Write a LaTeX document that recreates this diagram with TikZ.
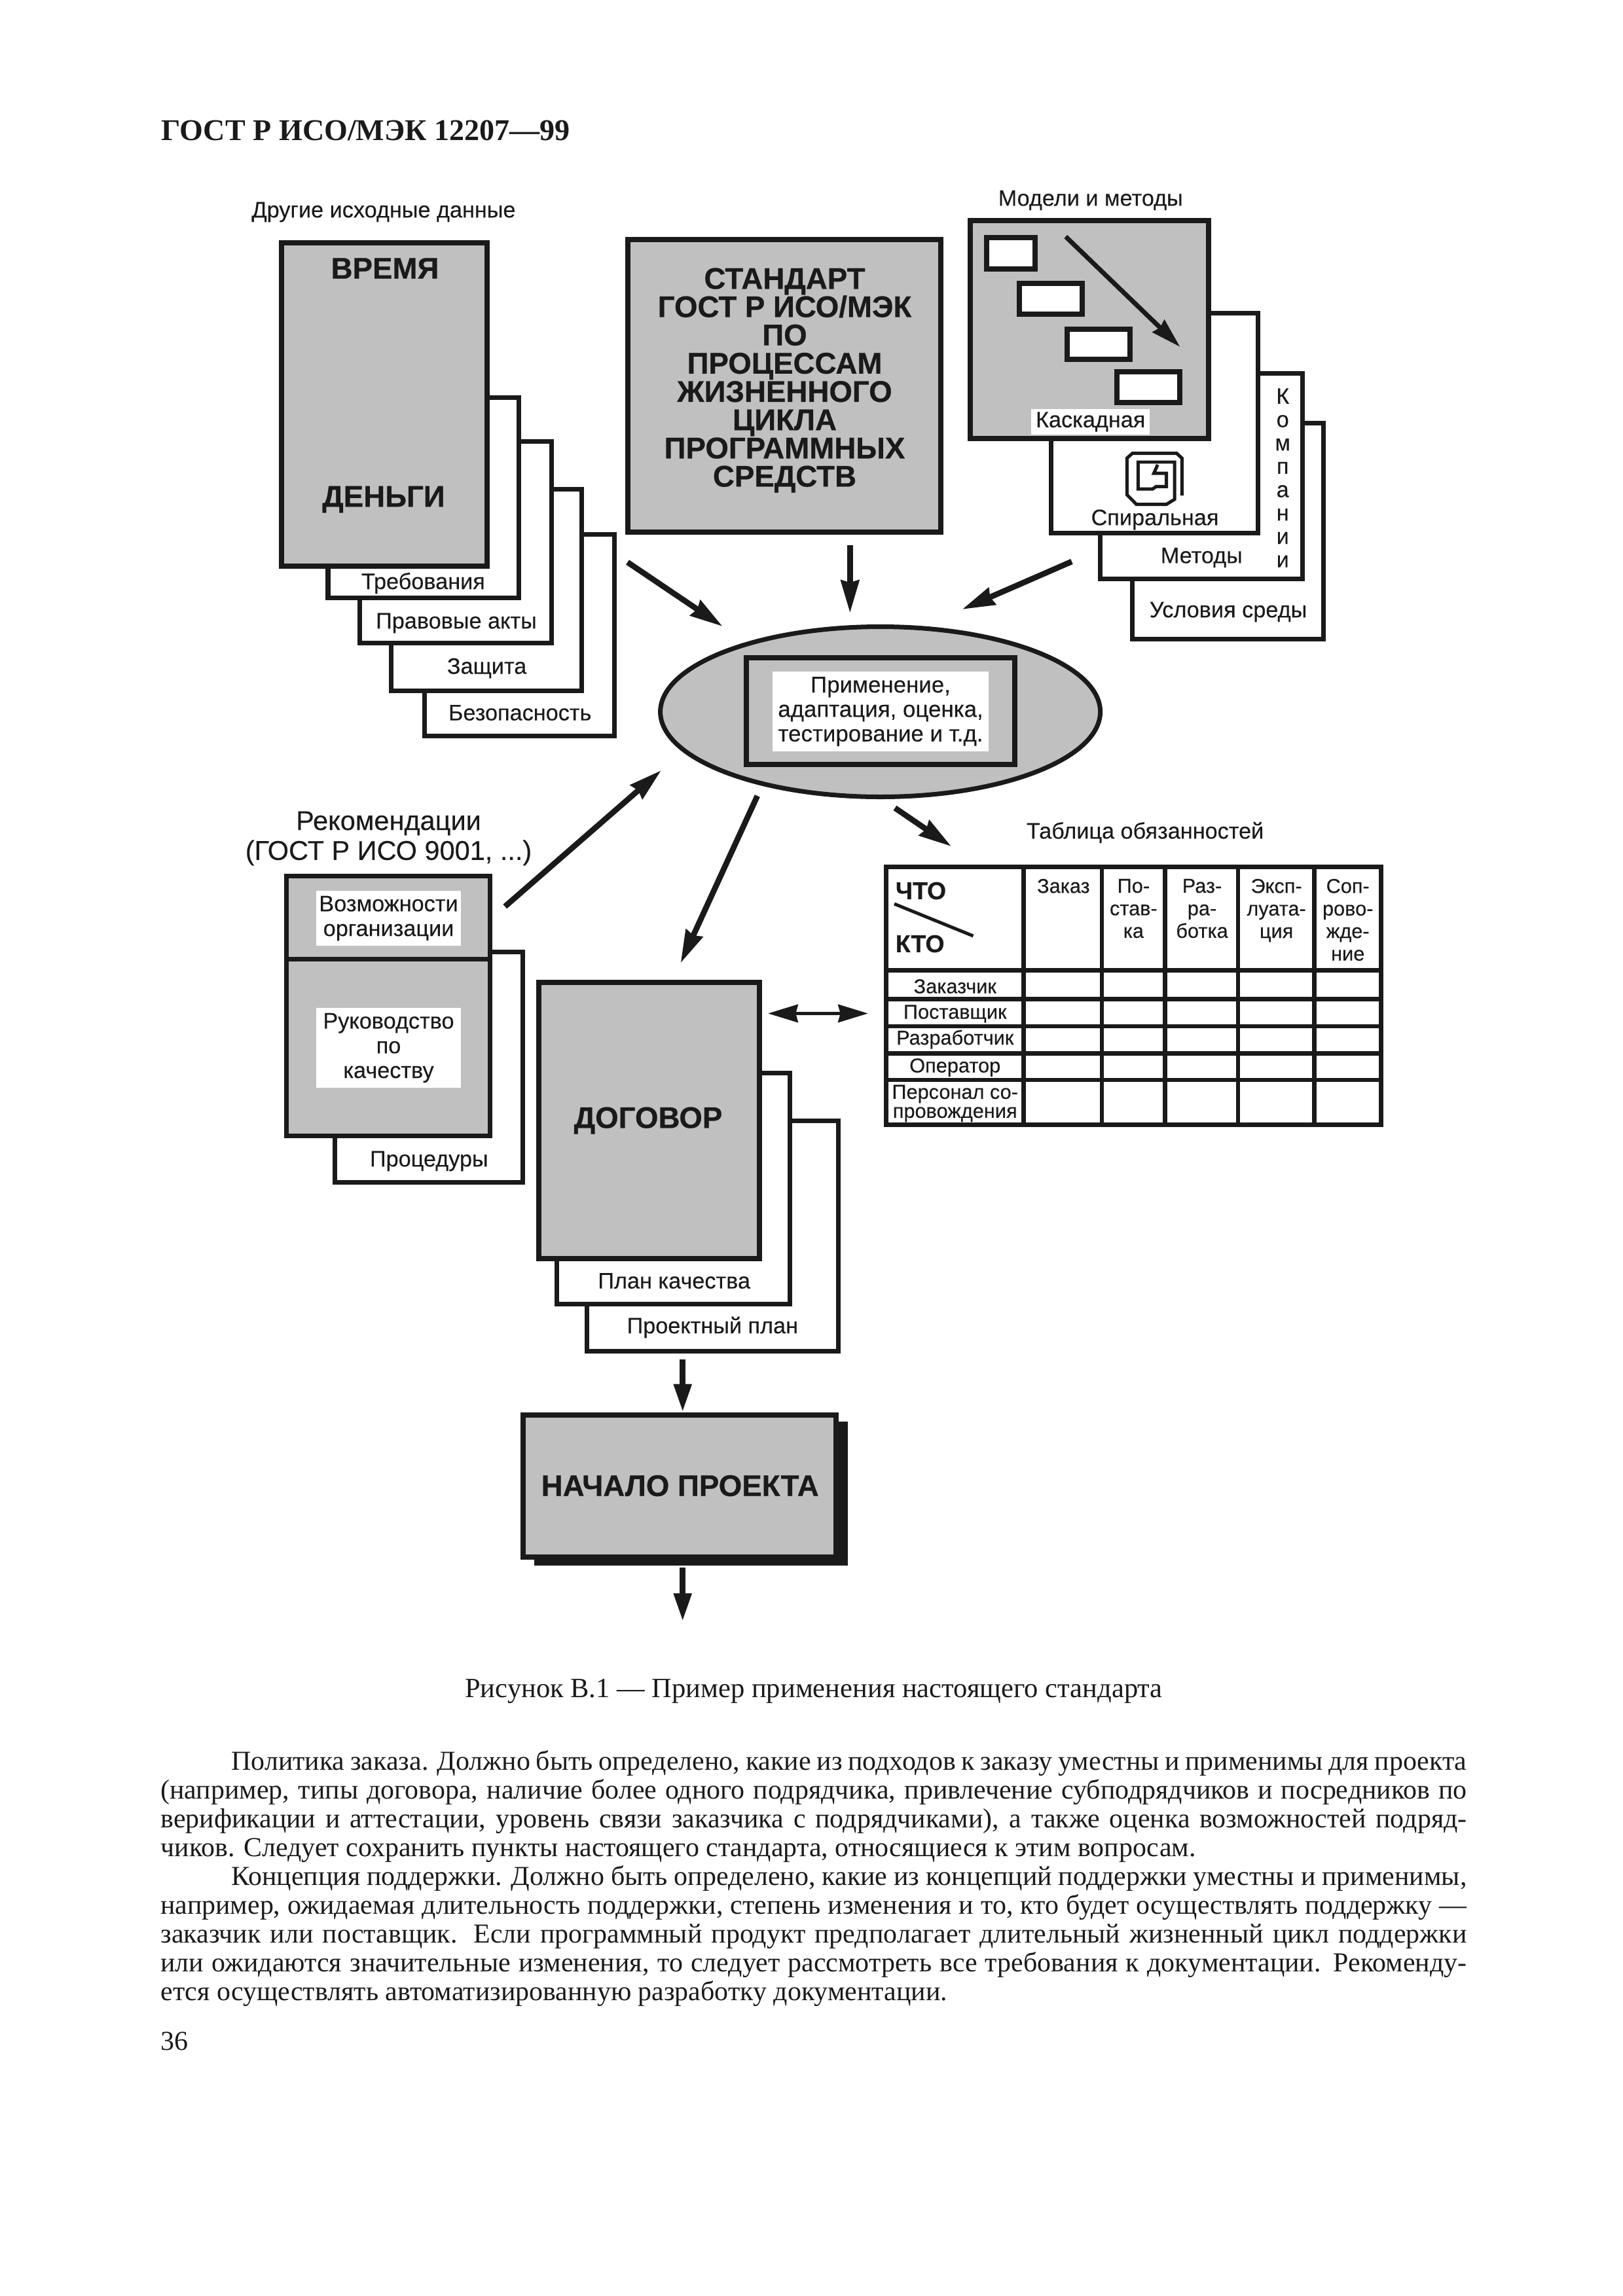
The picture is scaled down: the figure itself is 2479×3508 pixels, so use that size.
\documentclass[tikz,border=0pt]{standalone}
\usepackage{fontspec}
\setmainfont[FakeBold=0.15]{Liberation Sans}
\newfontfamily\bodyfont{Liberation Serif}
\newfontfamily\heavyfont[FakeBold=0.5]{Liberation Sans Bold}
\usetikzlibrary{arrows.meta,fit,shapes.geometric}
\definecolor{ink}{RGB}{26,26,26}
\definecolor{sheet}{RGB}{192,192,192}
\newcommand{\pxu}{0.2409pt}
\newcommand{\fl}[1]{\makebox[480.6pt][s]{#1}}
\tikzset{
  graybox/.style={draw=ink,fill=sheet,line width=1.93pt,inner sep=0},
  paperbox/.style={draw=ink,fill=white,line width=1.69pt,inner sep=0},
  smallbox/.style={draw=ink,fill=white,line width=1.93pt,inner sep=0},
  patch/.style={fill=white,inner sep=0,align=center,text=ink,font=\fontsize{8.25}{9.1}\selectfont},
  lbl/.style={inner sep=0,align=center,text=ink,font=\fontsize{8.25}{9.1}\selectfont},
  bigtxt/.style={inner sep=0,align=center,text=ink,font=\fontsize{10}{11}\selectfont},
  tabtxt/.style={inner sep=0,align=center,text=ink,font=\fontsize{7.4}{8.3}\selectfont},
  rowtxt/.style={inner sep=0,align=center,text=ink,font=\fontsize{7.4}{7}\selectfont},
  headtxt/.style={inner sep=0,align=center,text=ink,font=\heavyfont\fontsize{11}{10.4}\selectfont},
  whotxt/.style={inner sep=0,anchor=west,text=ink,font=\heavyfont\fontsize{9}{10}\selectfont},
  bodytxt/.style={inner sep=0,text=ink,align=left,font=\bodyfont\fontsize{10.1}{10.58}\selectfont},
  bigarrow/.style={draw=ink,line width=2.1pt,-{Stealth[length=12pt,width=6.6pt,inset=.8pt]}},
  fallarrow/.style={draw=ink,line width=1.7pt,-{Stealth[length=11pt,width=6.2pt,inset=.8pt]}},
  twoarrow/.style={draw=ink,line width=1.4pt,{Stealth[length=11pt,width=6.5pt,inset=.8pt]}-{Stealth[length=11pt,width=6.5pt,inset=.8pt]}},
  downarrow/.style={draw=ink,line width=2.2pt,-{Stealth[length=10.4pt,width=6.2pt,inset=0pt]}},
  grid/.style={draw=ink,line width=1.6pt}
}
\begin{document}
\begin{tikzpicture}[x=\pxu,y=-\pxu]
\useasboundingbox (0,0) rectangle (2479,3508);

\node [bodytxt,anchor=base west,font=\bodyfont\bfseries\fontsize{11.1}{12}\selectfont] (pagehead) at (245.6,214) {ГОСТ Р ИСО/МЭК 12207—99};

% left stack
\node [paperbox,fit={(648,816.5) (938.5,1124.5)}] (safety) {};
\node [paperbox,fit={(597.3,747.5) (888,1055.5)}] (protect) {};
\node [paperbox,fit={(549.7,674.5) (842.3,982.5)}] (legal) {};
\node [paperbox,fit={(501,607.5) (792.7,913.5)}] (reqs) {};
\node [graybox,fit={(430,371) (743.6,865)}] (input) {};
\node [lbl] (inputcap) at (586,324) {Другие исходные данные};
\node [headtxt] (time) at (588,410) {ВРЕМЯ};
\node [headtxt] (money) at (586,763) {ДЕНЬГИ};
\node [lbl] (reqstxt) at (646.4,891) {Требования};
\node [lbl] (legaltxt) at (697,952) {Правовые акты};
\node [lbl] (protecttxt) at (743.6,1021) {Защита};
\node [lbl] (safetytxt) at (794.2,1089) {Безопасность};

% standard
\node [graybox,fit={(958.5,365.6) (1437.2,813)}] (std) {};
\node [headtxt] (stdtxt) at (1198.5,581) {СТАНДАРТ\\ГОСТ Р ИСО/МЭК\\ПО\\ПРОЦЕССАМ\\ЖИЗНЕННОГО\\ЦИКЛА\\ПРОГРАММНЫХ\\СРЕДСТВ};

% right stack
\node [paperbox,fit={(1729.4,646.1) (2021.2,976.5)}] (cond) {};
\node [paperbox,fit={(1680,570.5) (1989.5,884.5)}] (meth) {};
\node [paperbox,fit={(1605.3,478.5) (1921,814)}] (spir) {};
\node [graybox,fit={(1482.3,337) (1845.7,670)}] (casc) {};
\node [smallbox,fit={(1507,363.4) (1580.5,410.6)}] (step1) {};
\node [smallbox,fit={(1557,433.4) (1652.8,480)}] (step2) {};
\node [smallbox,fit={(1630,502.5) (1726,549)}] (step3) {};
\node [smallbox,fit={(1706.3,568.4) (1801.8,615)}] (step4) {};
\coordinate (fallfrom) at (1627.7,361.5);
\coordinate (fallto) at (1802.5,530);
\draw [fallarrow] (fallfrom) -- (fallto);
\node [patch,minimum width=180.5*\pxu,minimum height=39.6*\pxu] (casctxt) at (1665.7,644.5) {Каскадная};
\draw [draw=ink,line width=1.2pt] (1805.3,757) -- (1805.3,700) -- (1797.3,692.7) -- (1729.5,692.7) -- (1721.4,700) -- (1721.4,756) -- (1735.7,770.5) -- (1781.7,770.5) -- (1794.2,762.8) -- (1794.2,706) -- (1738.4,706) -- (1738.4,747) -- (1760.7,747) -- (1766,743.3) -- (1781.7,743.3) -- (1781.7,723) -- (1762.5,723) -- (1768.2,710);
\node [lbl] (spirtxt) at (1764,794) {Спиральная};
\node [lbl] (methtxt) at (1835.3,852) {Методы};
\node [lbl] (condtxt) at (1876,935) {Условия среды};
\node [lbl] (modelcap) at (1665.7,306) {Модели и методы};
\node [lbl,font=\fontsize{8.25}{8.6}\selectfont] (comp) at (1959.2,730) {К\\о\\м\\п\\а\\н\\и\\и};

% centre
\node [ellipse,draw=ink,fill=sheet,line width=1.69pt,inner sep=0,minimum width=672*\pxu,minimum height=260*\pxu] (use) at (1344.6,1087.5) {};
\node [graybox,fit={(1139.8,1005) (1550.3,1168.4)}] (useframe) {};
\node [patch,font=\fontsize{8.4}{9}\selectfont,minimum width=330*\pxu,minimum height=122*\pxu] (usetxt) at (1345,1087) {Применение,\\адаптация, оценка,\\тестирование и т.д.};

% recommendations
\node [paperbox,fit={(511.5,1454.8) (798.5,1806)}] (proc) {};
\node [graybox,line width=1.69pt,fit={(437.4,1338.5) (748.7,1465.7)}] (ability) {};
\node [graybox,line width=1.69pt,fit={(437.4,1465.7) (748.7,1735.9)}] (manual) {};
\node [patch,minimum width=221*\pxu,minimum height=84.4*\pxu] (abilitytxt) at (593.5,1403) {Возможности\\организации};
\node [patch,minimum width=221*\pxu,minimum height=121.4*\pxu] (manualtxt) at (593.5,1601) {Руководство\\по\\качеству};
\node [lbl] (proctxt) at (655.3,1774) {Процедуры};
\node [bigtxt] (recom) at (593.5,1281) {Рекомендации\\(ГОСТ Р ИСО 9001, ...)};

% contract
\node [paperbox,fit={(896.8,1712) (1280.7,2064)}] (plan2) {};
\node [paperbox,fit={(850.2,1639.5) (1206.3,1992.5)}] (plan1) {};
\node [graybox,fit={(823.4,1501) (1159.7,1923)}] (deal) {};
\node [headtxt] (dealtxt) at (990,1712) {ДОГОВОР};
\node [lbl] (plan1txt) at (1029.7,1957) {План качества};
\node [lbl] (plan2txt) at (1088.3,2028) {Проектный план};

% project start
\node [fill=ink,inner sep=0,fit={(815.9,2172.4) (1295,2391.7)}] (startshade) {};
\node [graybox,fit={(799,2161.7) (1277.2,2378.5)}] (start) {};
\node [headtxt] (starttxt) at (1038.7,2270) {НАЧАЛО ПРОЕКТА};

% table
\node [lbl] (tabcap) at (1749,1272) {Таблица обязанностей};
\node [paperbox,fit={(1353,1324.5) (2109.5,1718.5)}] (tab) {};
\foreach \xx in {1563.4,1682.8,1779.2,1891,2007.6}
  \draw [grid] (\xx,1324.5) -- (\xx,1718.5);
\foreach \yy in {1482.6,1526.3,1568,1609.5,1650}
  \draw [grid] (1353,\yy) -- (2109.5,\yy);
\node [whotxt] (what) at (1367,1361) {ЧТО};
\node [whotxt] (who) at (1367,1442) {КТО};
\coordinate (slashfrom) at (1366,1381);
\coordinate (slashto) at (1486.5,1430);
\draw [draw=ink,line width=1.2pt] (slashfrom) -- (slashto);
\node [tabtxt,anchor=north] (col1) at (1624.4,1342) {Заказ};
\node [tabtxt,anchor=north] (col2) at (1731.4,1342) {По-\\став-\\ка};
\node [tabtxt,anchor=north] (col3) at (1836,1342) {Раз-\\ра-\\ботка};
\node [tabtxt,anchor=north] (col4) at (1949.6,1342) {Эксп-\\луата-\\ция};
\node [tabtxt,anchor=north] (col5) at (2058.7,1342) {Соп-\\рово-\\жде-\\ние};
\node [rowtxt] (row1) at (1458.7,1507) {Заказчик};
\node [rowtxt] (row2) at (1458.7,1549) {Поставщик};
\node [rowtxt] (row3) at (1458.7,1588) {Разработчик};
\node [rowtxt] (row4) at (1458.7,1631) {Оператор};
\node [rowtxt] (row5) at (1458.7,1686) {Персонал со-\\провождения};

% arrows
\coordinate (a1) at (958.5,859);
\coordinate (a2) at (1103.7,957);
\draw [bigarrow] (a1) -- (a2);
\coordinate (b1) at (1298.3,833);
\coordinate (b2) at (1298.3,936.7);
\draw [bigarrow] (b1) -- (b2);
\coordinate (c1) at (1637,858);
\coordinate (c2) at (1469.5,931);
\draw [bigarrow] (c1) -- (c2);
\coordinate (d1) at (771.3,1385);
\coordinate (d2) at (1010,1177);
\draw [bigarrow] (d1) -- (d2);
\coordinate (e1) at (1156.8,1216);
\coordinate (e2) at (1039.6,1471.4);
\draw [bigarrow] (e1) -- (e2);
\coordinate (f1) at (1367,1234.5);
\coordinate (f2) at (1453.2,1293.2);
\draw [bigarrow] (f1) -- (f2);
\coordinate (g1) at (1173,1548.4);
\coordinate (g2) at (1326,1548.4);
\draw [twoarrow] (g1) -- (g2);
\coordinate (h1) at (1042.7,2076.8);
\draw [downarrow] (h1) -- (start.north -| h1);
\coordinate (k1) at (1042.7,2395);
\coordinate (k2) at (1042.7,2477.4);
\draw [downarrow] (k1) -- (k2);

% page text
\node [bodytxt,anchor=base,font=\bodyfont\fontsize{10.25}{11}\selectfont] (caption) at (1243,2593) {Рисунок В.1 — Пример применения настоящего стандарта};
\node [bodytxt,anchor=north west] (para1) at (244.7,2670.8) {\rule{0pt}{8pt}\fl{\hspace{26pt}Политика заказа. Должно быть определено, какие из подходов к заказу уместны и применимы для проекта}\\
\fl{(например, типы договора, наличие более одного подрядчика, привлечение субподрядчиков и посредников по}\\
\fl{верификации и аттестации, уровень связи заказчика с подрядчиками), а также оценка возможностей подряд-}\\
чиков. Следует сохранить пункты настоящего стандарта, относящиеся к этим вопросам.};
\node [bodytxt,anchor=north west] (para2) at (244.7,2846.8) {\rule{0pt}{8pt}\fl{\hspace{26pt}Концепция поддержки. Должно быть определено, какие из концепций поддержки уместны и применимы,}\\
\fl{например, ожидаемая длительность поддержки, степень изменения и то, кто будет осуществлять поддержку —}\\
\fl{заказчик или поставщик. Если программный продукт предполагает длительный жизненный цикл поддержки}\\
\fl{или ожидаются значительные изменения, то следует рассмотреть все требования к документации. Рекоменду-}\\
ется осуществлять автоматизированную разработку документации.};
\node [bodytxt,anchor=base west] (pageno) at (244.7,3132.5) {36};
\end{tikzpicture}
\end{document}
